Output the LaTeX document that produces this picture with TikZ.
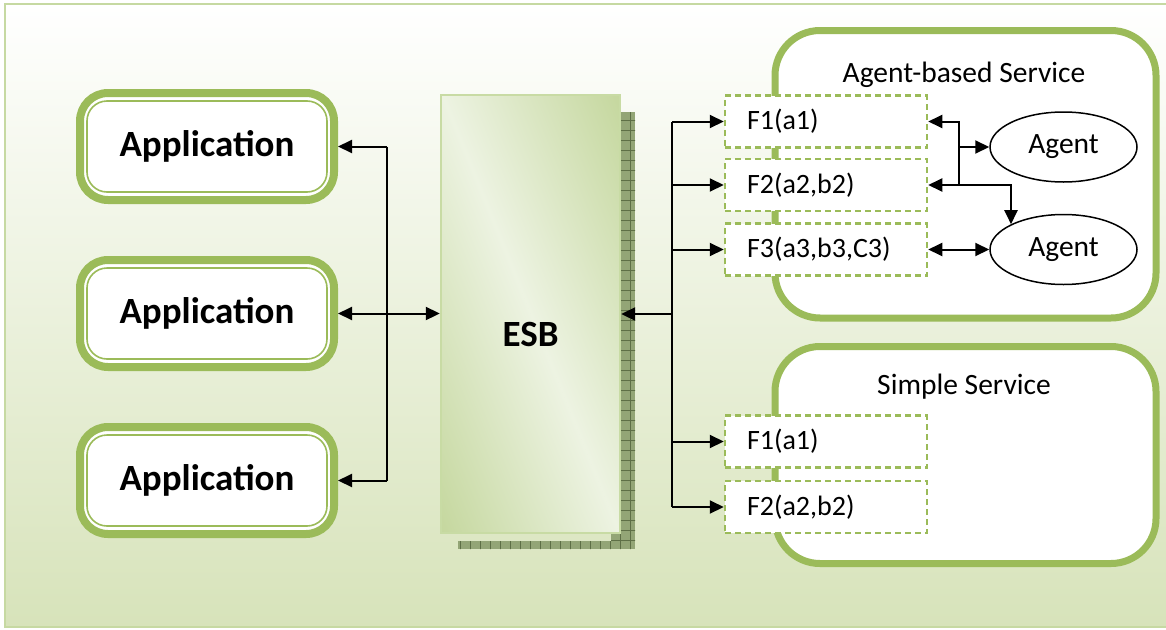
\documentclass[tikz,border=0pt]{standalone}
\usepackage{fontspec}
\setmainfont{Carlito}
\usetikzlibrary{arrows.meta,calc,shapes.geometric}

\definecolor{svcgreen}{HTML}{9BBB59}
\definecolor{framegreen}{HTML}{C6D9A2}
\definecolor{bgbottom}{HTML}{D7E3BA}
\definecolor{esbdark}{HTML}{C3D69B}
\definecolor{esblight}{HTML}{EDF3E2}
\definecolor{esbedge}{HTML}{C8DBA4}
\definecolor{shadowfill}{HTML}{93A576}
\definecolor{shadowline}{HTML}{5E6F46}

\begin{document}
\begin{tikzpicture}[x=1pt,y=-1pt,
  >={Triangle[length=14pt,width=13pt]},
  conn/.style={line width=2pt, draw=black},
  appbox/.style={draw=svcgreen, line width=8pt, rounded corners=28pt, fill=white,
    minimum width=254pt, minimum height=107pt, inner sep=0pt,
    font=\fontsize{37}{42}\selectfont\bfseries},
  appinner/.style={draw=svcgreen, line width=1.6pt, rounded corners=20pt},
  esbbox/.style={inner sep=0pt, minimum width=179pt, minimum height=438pt},
  fnbox/.style={draw=svcgreen, line width=2.5pt, dash pattern=on 6pt off 4pt,
    fill=white, minimum width=202pt, minimum height=52pt, text width=158pt,
    inner xsep=22pt, inner ysep=0pt, align=left,
    font=\fontsize{28}{32}\selectfont},
  svcbox/.style={draw=svcgreen, line width=7pt, rounded corners=45pt, fill=white,
    minimum width=381pt, inner sep=0pt},
  svctitle/.style={font=\fontsize{29.5}{34}\selectfont, inner sep=0pt},
  agentnode/.style={ellipse, draw=black, line width=1.5pt, fill=white,
    minimum width=147pt, minimum height=70pt, inner sep=0pt,
    font=\fontsize{29.5}{34}\selectfont},
]
\useasboundingbox (0,0) rectangle (1166,629);
\clip (0,0) rectangle (1166,629);

% background panel
\fill[top color=white, bottom color=bgbottom] (5,4) rectangle (1180,627);
\draw[framegreen, line width=2pt] (5,4) rectangle (1180,627);

% ESB shadow strips
\begin{scope}
  \fill[shadowfill] (621,112) rectangle (635,549);
  \fill[shadowfill] (458,541) rectangle (635,549);
  \fill[shadowfill] (611,533) rectangle (621,541);
  \clip (621,112) rectangle (635,549) (458,541) rectangle (635,549) (611,533) rectangle (621,541);
  \draw[shadowline, line width=0.9pt, step=10pt] (452,552) grid (642,110);
\end{scope}

% ESB: diagonal light band between two darker corners
\node[esbbox] (esb) at (530.5,314) {};
\begin{scope}
  \clip (esb.north west) rectangle (esb.south east);
  \begin{scope}[transform canvas={shift={(530.5pt,-314pt)}, rotate=22}]
    \shade[left color=esbdark, right color=esblight] (-172,-330) rectangle (0.5,330);
    \shade[left color=esblight, right color=esbdark] (0,-330) rectangle (172,330);
  \end{scope}
\end{scope}
\draw[esbedge, line width=2pt] (esb.north west) rectangle (esb.south east);
\node[font=\fontsize{37}{42}\selectfont\bfseries, inner sep=0pt] (esblabel) at (530.5,334) {ESB};

% applications
\foreach \n/\y in {1/146.5, 2/313.5, 3/480.5} {
  \node[appbox] (app\n) at (207,\y) {Application};
  \draw[appinner] ([shift={(11,12)}]app\n.north west) rectangle ([shift={(-11,-12)}]app\n.south east);
}

% services
\node[svcbox, minimum height=287.5pt] (agsvc) at (965.5,174.25) {};
\node[svctitle] (agtitle) at (964,75) {Agent-based Service};
\node[svcbox, minimum height=217pt] (smsvc) at (965.5,455) {};
\node[svctitle] (smtitle) at (964,387) {Simple Service};

% functions
\node[fnbox] (af1) at (826,121.5) {F1(a1)};
\node[fnbox] (af2) at (826,185) {F2(a2,b2)};
\node[fnbox] (af3) at (826,249.5) {F3(a3,b3,C3)};
\node[fnbox] (sf1) at (826,441.5) {F1(a1)};
\node[fnbox] (sf2) at (826,507) {F2(a2,b2)};

% agents
\node[agentnode] (ag1) at (1063.5,147) {Agent};
\node[agentnode] (ag2) at (1063.5,249.5) {Agent};

% left bus: applications <-> ESB
\coordinate (lbus) at (387,0);
\draw[conn] (app1.east -| lbus) -- (app3.east -| lbus);
\draw[conn,->] (app1.east -| lbus) -- (app1.east);
\draw[conn,<->] (app2.east) -- ([xshift=-1pt]esb.west |- app2.east);
\draw[conn,->] (app3.east -| lbus) -- (app3.east);

% right bus: ESB <-> functions
\coordinate (rbus) at (672,0);
\draw[conn] (af1.west -| rbus) -- (sf2.west -| rbus);
\foreach \f in {af1,af2,af3,sf1,sf2}
  \draw[conn,->] (\f.west -| rbus) -- (\f.west);
\draw[conn,->] (esb.east -| rbus) -- ([xshift=1pt]esb.east);

% functions <-> agents
\coordinate (jn) at (959,0);
\draw[conn,<-] (af1.east) -| (af2.east -| jn);
\draw[conn,->] (ag1.west -| jn) -- (ag1.west);
\draw[conn,<->] (af2.east) -| (ag2.north west);
\draw[conn,<->] (af3.east) -- (ag2.west);
\end{tikzpicture}
\end{document}
